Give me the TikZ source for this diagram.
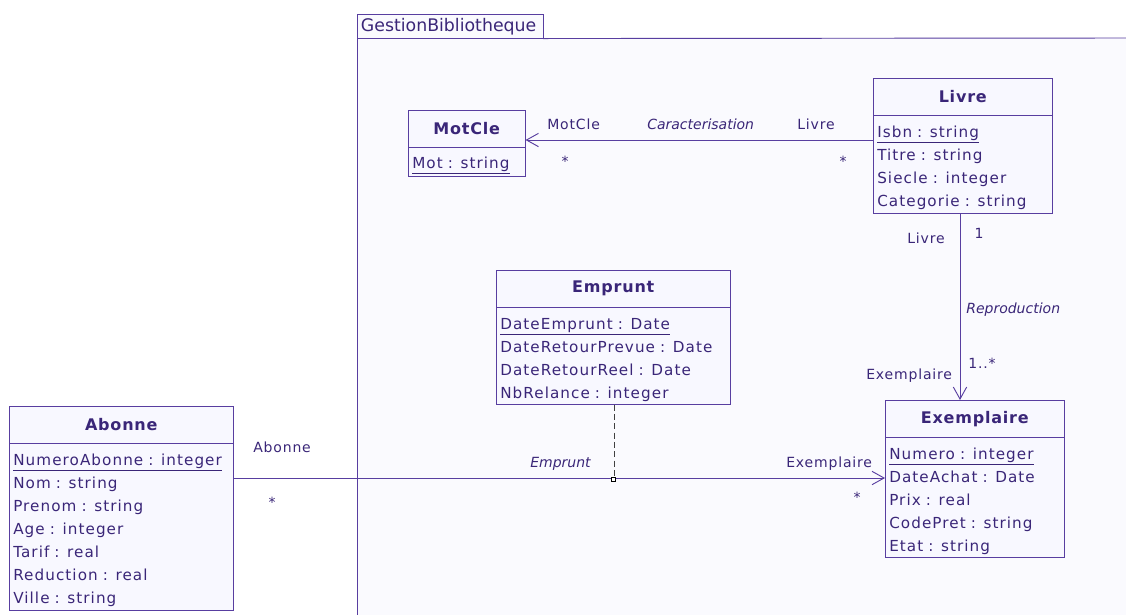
\documentclass[tikz,border=0pt]{standalone}
\usepackage{fontspec}
\setmainfont{DejaVu Sans}
\newfontfamily\attrfont{DejaVu Sans}[LetterSpace=7]
\newfontfamily\titlefont{DejaVu Sans}[LetterSpace=5]
\newfontfamily\lblfont{DejaVu Sans}[LetterSpace=6]
\usetikzlibrary{arrows.meta}
\definecolor{umlline}{RGB}{88,62,160}
\definecolor{umltext}{RGB}{58,38,120}
\definecolor{boxfill}{RGB}{248,248,255}
\definecolor{pkgfill}{RGB}{250,250,254}
\newcommand{\idattr}[1]{\rule{0pt}{14pt}\underline{#1}}
\tikzset{
  head/.style={draw=umlline, fill=boxfill, anchor=north west, minimum height=27.75pt, inner sep=0pt, text=umltext, font=\titlefont\fontsize{12}{14}\selectfont\bfseries},
  attrs/.style={draw=umlline, fill=boxfill, anchor=north west, inner xsep=3pt, inner ysep=0pt, align=left, text=umltext, font=\attrfont\fontsize{11.4}{17.25}\selectfont},
  role/.style={anchor=base west, inner sep=0pt, text=umltext, font=\lblfont\fontsize{10.5}{12}\selectfont},
  assocname/.style={role, font=\fontsize{10.5}{12}\selectfont\itshape},
  mult/.style={anchor=base, inner sep=0pt, text=umltext, font=\lblfont\fontsize{10.5}{12}\selectfont},
  assoc/.style={draw=umlline, line width=0.7pt},
  nav/.style={-{Straight Barb[length=9pt,width=10pt,line width=0.7pt]}}
}
\begin{document}
\begin{tikzpicture}[x=0.75pt,y=0.75pt,yscale=-1,xscale=1]
	\useasboundingbox (0,0) rectangle (1126,615);
	% package
	\fill[pkgfill] (357,38) rectangle (1126,615);
	\node[draw=umlline, fill=pkgfill, anchor=north west, minimum height=18pt, text width=133.75pt, inner xsep=2.75pt, inner ysep=0pt, text=umltext, font=\fontsize{13}{15}\selectfont] (pkg) at (357,14) {GestionBibliotheque};
	\draw[umlline, line width=0.7pt] (pkg.south west) -- (357,615);
	\draw[umlline, line width=0.7pt] (pkg.south east) -- (1126,38);
	% classes
	\node[head, minimum width=87.75pt] (motcle) at (408,110) {MotCle};
	\node[attrs, text width=81.75pt, minimum height=21.75pt] (motcle-attr) at (408,147) {\idattr{Mot : string}};
	\node[head, minimum width=134.25pt] (livre) at (873,78) {Livre};
	\node[attrs, text width=128.25pt, minimum height=73.5pt] (livre-attr) at (873,115) {\idattr{Isbn : string}\\Titre : string\\Siecle : integer\\Categorie : string};
	\node[head, minimum width=175.5pt] (emprunt) at (496,270) {Emprunt};
	\node[attrs, text width=169.5pt, minimum height=72.75pt] (emprunt-attr) at (496,307) {\idattr{DateEmprunt : Date}\\DateRetourPrevue : Date\\DateRetourReel : Date\\NbRelance : integer};
	\node[head, minimum width=168pt] (abonne) at (9,406) {Abonne};
	\node[attrs, text width=162pt, minimum height=125.25pt] (abonne-attr) at (9,443) {\idattr{NumeroAbonne : integer}\\Nom : string\\Prenom : string\\Age : integer\\Tarif : real\\Reduction : real\\Ville : string};
	\node[head, minimum width=134.25pt] (exemplaire) at (885,400) {Exemplaire};
	\node[attrs, text width=128.25pt, minimum height=90pt] (exemplaire-attr) at (885,437) {\idattr{Numero : integer}\\DateAchat : Date\\Prix : real\\CodePret : string\\Etat : string};
	% associations
	\draw[assoc, nav] (livre-attr.west |- 0,140) -- (motcle.east |- 0,140);
	\draw[assoc, nav] (livre-attr.south -| 960,0) -- (exemplaire.north -| 960,0);
	\draw[assoc, nav] (abonne-attr.east |- 0,478) -- (exemplaire-attr.west |- 0,478);
	\coordinate (lien) at (614,478);
	\draw[black!75, line width=0.7pt, dash pattern=on 4.5pt off 2.5pt] (emprunt-attr.south -| lien) -- (lien);
	\node[draw=black, fill=white, inner sep=0pt, minimum size=3pt, line width=0.6pt] (lien-box) at (613.5,479) {};
	% labels
	\node[role] (r-motcle) at (547,129) {MotCle};
	\node[assocname] (n-carac) at (647,129) {Caracterisation};
	\node[role] (r-livre) at (797,129) {Livre};
	\node[mult] (m-motcle) at (565,166) {*};
	\node[mult] (m-livre) at (843,166) {*};
	\node[role] (r-livre2) at (907,243) {Livre};
	\node[mult] (m-livre2) at (979,238) {1};
	\node[assocname] (n-repro) at (966,313) {Reproduction};
	\node[role] (m-exemp) at (968,368) {1..*};
	\node[role] (r-exemp) at (866,379) {Exemplaire};
	\node[role] (r-abonne) at (253,452) {Abonne};
	\node[mult] (m-abonne) at (272,507) {*};
	\node[assocname] (n-emprunt) at (530,467) {Emprunt};
	\node[role] (r-exemp2) at (786,467) {Exemplaire};
	\node[mult] (m-exemp2) at (857,502) {*};
\end{tikzpicture}
\end{document}
